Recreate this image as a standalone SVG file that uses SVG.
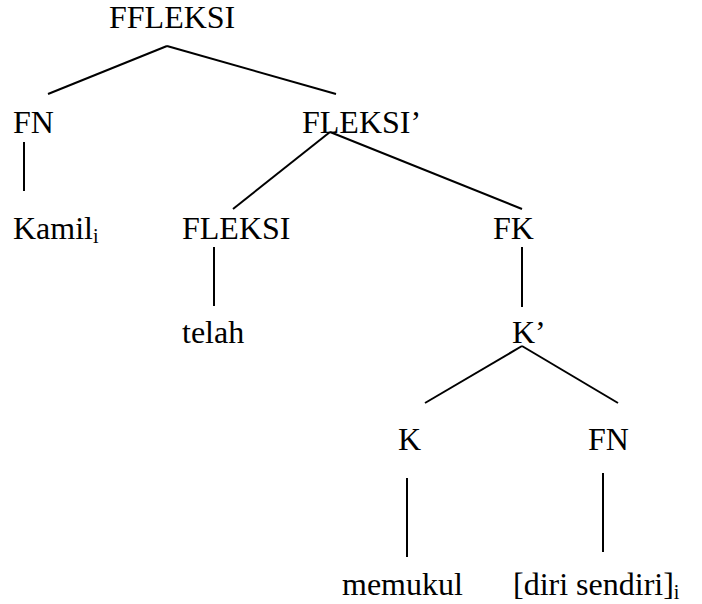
<svg xmlns="http://www.w3.org/2000/svg" width="702" height="604" viewBox="0 0 702 604">
<style>
text{font-family:'Liberation Serif','Times New Roman',serif;font-size:32px;fill:#000}
.sub{font-size:20px}
line{stroke:#000;stroke-width:2}
</style>
<rect width="702" height="604" fill="#fff"/>
<g id="connectors">
<line x1="167" y1="46" x2="48" y2="94"/>
<line x1="167" y1="46" x2="336" y2="94"/>
<line x1="24" y1="142" x2="24" y2="191"/>
<line x1="330" y1="132" x2="233" y2="209"/>
<line x1="330" y1="132" x2="522" y2="209"/>
<line x1="214" y1="247" x2="214" y2="306"/>
<line x1="522" y1="247" x2="522" y2="307"/>
<line x1="522" y1="346" x2="425" y2="403"/>
<line x1="522" y1="346" x2="618" y2="403"/>
<line x1="407" y1="478" x2="407" y2="557"/>
<line x1="603" y1="473" x2="603" y2="552"/>
</g>
<g id="n-ffleksi"><text x="109" y="28">FFLEKSI</text></g>
<g id="n-fn1"><text x="13" y="133">FN</text></g>
<g id="n-fleksi-bar"><text x="302" y="133">FLEKSI’</text></g>
<g id="n-kamil"><text x="13" y="239">Kamil<tspan class="sub" dy="4">i</tspan></text></g>
<g id="n-fleksi"><text x="182" y="239">FLEKSI</text></g>
<g id="n-fk"><text x="493" y="239">FK</text></g>
<g id="n-telah"><text x="182" y="343">telah</text></g>
<g id="n-kbar"><text x="512" y="343">K’</text></g>
<g id="n-k"><text x="398" y="450">K</text></g>
<g id="n-fn2"><text x="588" y="450">FN</text></g>
<g id="n-memukul"><text x="342" y="595">memukul</text></g>
<g id="n-diri"><text x="513" y="595">[diri sendiri]<tspan class="sub" dy="4">i</tspan></text></g>
</svg>
